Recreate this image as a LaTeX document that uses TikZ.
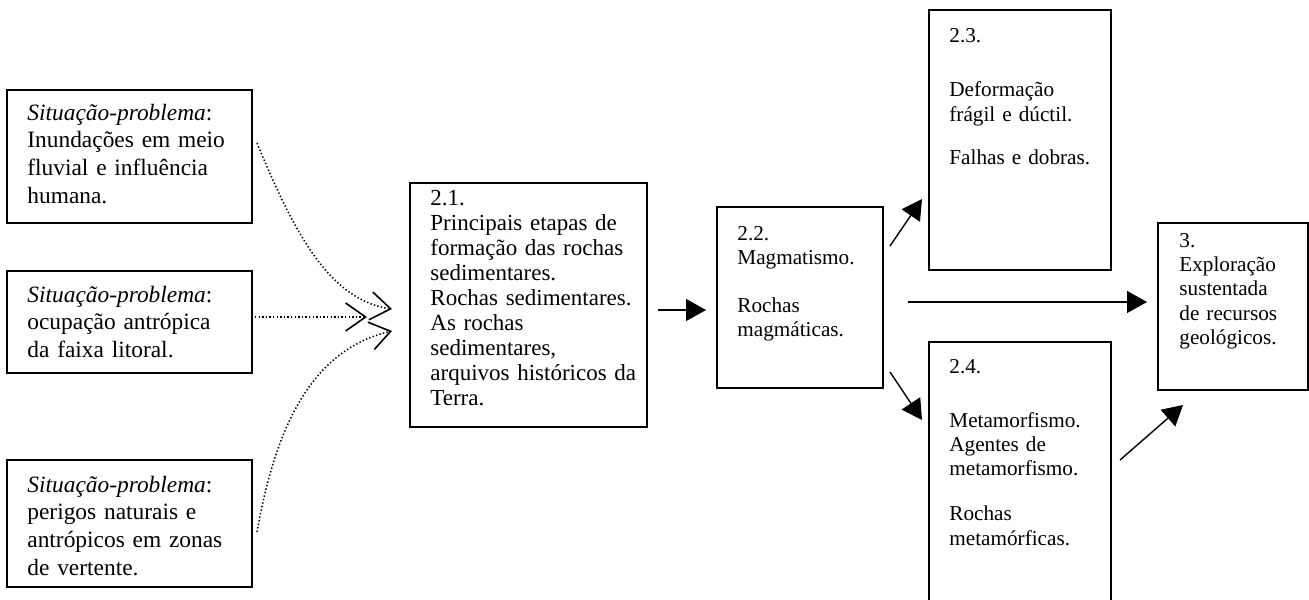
\documentclass[tikz,border=0pt]{standalone}
\usepackage{fontspec}
\setmainfont{Liberation Serif}
\usetikzlibrary{arrows.meta,calc}

\begin{document}
\begin{tikzpicture}[x=0.5pt,y=-0.5pt,
  box/.style={draw, line width=0.9pt, inner sep=0pt, outer sep=0pt, anchor=north west},
  txt/.style={anchor=base west, inner sep=0pt, align=left, text width=150pt},
  leftfont/.style={font=\fontsize{11.7}{13.85}\selectfont},
  midfont/.style={font=\fontsize{11.5}{12.5}\selectfont},
  rightfont/.style={font=\fontsize{10.6}{12.2}\selectfont},
  flow/.style={line width=0.7pt, -{Triangle[length=10pt,width=11pt]}},
  feed/.style={line width=0.75pt, dash pattern=on 0.7pt off 1.1pt,
    -{Straight Barb[length=10pt,width=14pt,line width=0.8pt]}}]

\clip (0,0) rectangle (1309,599);

% problem situations
\node[box, minimum width=122.5pt, minimum height=66.5pt] (A) at (7,90) {};
\node[box, minimum width=122.5pt, minimum height=51pt]   (B) at (7,271) {};
\node[box, minimum width=122.5pt, minimum height=63.5pt] (C) at (7,460) {};

% content blocks
\node[box, minimum width=118.5pt, minimum height=122pt] (S21) at (410,183) {};
\node[box, minimum width=83pt,    minimum height=90.5pt] (S22) at (717,207) {};
\node[box, minimum width=91pt,    minimum height=130pt] (S23) at (929,10) {};
\node[box, minimum width=91pt,    minimum height=150pt] (S24) at (929,342) {};
\node[box, minimum width=75pt,    minimum height=83.5pt] (T3) at (1158,223) {};

% texts
\node[txt, leftfont] (tA) at ($(A.north west)+(20,30)$)
  {\textit{Situação-problema}:\\Inundações em meio\\fluvial e influência\\humana.};
\node[txt, leftfont] (tB) at ($(B.north west)+(20,31)$)
  {\textit{Situação-problema}:\\ocupação antrópica\\da faixa litoral.};
\node[txt, leftfont] (tC) at ($(C.north west)+(20,32)$)
  {\textit{Situação-problema}:\\perigos naturais e\\antrópicos em zonas\\de vertente.};

\node[txt, midfont] (t21) at ($(S21.north west)+(20,22)$)
  {2.1.\\Principais etapas de\\formação das rochas\\sedimentares.\\Rochas sedimentares.\\As rochas\\sedimentares,\\arquivos históricos da\\Terra.};
\node[txt, rightfont] (t22) at ($(S22.north west)+(20,33)$)
  {2.2.\\Magmatismo.\\[11.8pt]Rochas\\magmáticas.};
\node[txt, rightfont] (t23) at ($(S23.north west)+(20,33)$)
  {2.3.\\[14.8pt]Deformação\\frágil e dúctil.\\[9.6pt]Falhas e dobras.};
\node[txt, rightfont] (t24) at ($(S24.north west)+(20,31)$)
  {2.4.\\[14.8pt]Metamorfismo.\\Agentes de\\metamorfismo.\\[10.3pt]Rochas\\metamórficas.};
\node[txt, rightfont] (t3) at ($(T3.north west)+(21,24)$)
  {3.\\Exploração\\sustentada\\de recursos\\geológicos.};

% dotted feeds into 2.1
\draw[feed] ($(A.north east)+(5,53)$) .. controls (295,235) and (330,300) ..
  ($(S21.north west)+(-18,126)$);
\draw[feed] ($(B.north east)+(3,46)$) -- ($(S21.north west)+(-43,134)$);
\draw[feed] ($(C.north east)+(5,72)$) .. controls (275,430) and (310,350) ..
  ($(S21.north west)+(-18,148)$);

% solid flow arrows
\draw[flow] ($(S21.north east)+(11,127)$) -- ($(S22.north west)+(-11,103)$);
\draw[flow] ($(S22.north east)+(7,39)$) -- ($(S23.south west)+(-7,-71)$);
\draw[flow] ($(S22.south east)+(7,-16)$) -- ($(S24.north west)+(-7,78)$);
\draw[flow] ($(S22.north east)+(25,95)$) -- ($(T3.north west)+(-11,79)$);
\draw[flow] ($(S24.north east)+(9,118)$) -- ($(T3.south west)+(25,15)$);
\end{tikzpicture}
\end{document}
